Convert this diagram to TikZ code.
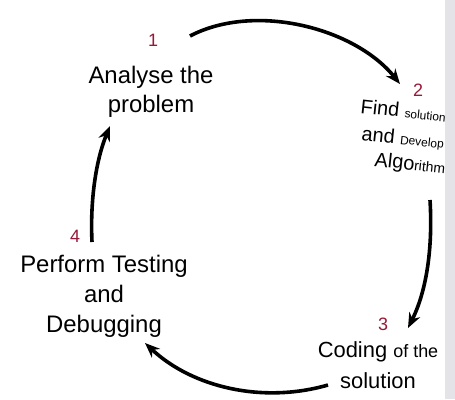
\documentclass[tikz,border=0pt]{standalone}
\usepackage{fontspec}
\setmainfont{Liberation Sans}
\usetikzlibrary{arrows.meta}
\definecolor{numred}{RGB}{150,25,55}
\definecolor{edgegray}{RGB}{228,228,232}
\newcommand{\bigpart}{\fontsize{20}{24}\selectfont}
\newcommand{\smallpart}{\fontsize{12}{14}\selectfont}
\begin{document}
\begin{tikzpicture}[x=1bp,y=-1bp,
  lbl/.style={font=\fontsize{24}{29}\selectfont, align=center, inner sep=0pt},
  rlbl/.style={anchor=base west, inner sep=0pt, rotate=-6},
  num/.style={text=numred, font=\fontsize{18}{20}\selectfont, inner sep=0pt},
  conn/.style={line width=3.6bp, -{Stealth[length=15bp,width=12bp]}}]
\useasboundingbox (0,0) rectangle (455,399);
\fill[white] (0,0) rectangle (455,399);
\fill[edgegray] (445,0) rectangle (455,399);

% step labels
\node[num] (n1) at (153,40) {1};
\node[lbl] (t1) at (151,92) {Analyse the\\problem};

\node[num] (n2) at (418,90) {2};
\node[rlbl] (t2a) at (360,113) {\bigpart Find \smallpart solution};
\node[rlbl] (t2b) at (361,140) {\bigpart and \smallpart Develop};
\node[rlbl] (t2c) at (374,166) {\bigpart Algo\fontsize{14}{16}\selectfont rithm};

\node[num] (n3) at (383,324) {3};
\node[lbl, font=\fontsize{22}{31}\selectfont] (t3) at (378,365) {Coding {\fontsize{18}{20}\selectfont of the}\\solution};

\node[num] (n4) at (75,236) {4};
\node[lbl, font=\fontsize{24}{30}\selectfont] (t4) at (104,296) {Perform Testing\\and\\Debugging};

% connector end points
\coordinate (a1s) at (190,36);
\coordinate (a1e) at (400,84);
\coordinate (a2s) at (430,200);
\coordinate (a2e) at (408,328);
\coordinate (a3s) at (328,385);
\coordinate (a3e) at (145,343);
\coordinate (a4s) at (92,242);
\coordinate (a4e) at (110,126);

\draw[conn] (a1s) .. controls (255,2) and (355,28) .. (a1e);
\draw[conn] (a2s) .. controls (433,250) and (426,292) .. (a2e);
\draw[conn] (a3s) .. controls (262,404) and (192,387) .. (a3e);
\draw[conn] (a4s) .. controls (90,200) and (96,160) .. (a4e);
\end{tikzpicture}
\end{document}
